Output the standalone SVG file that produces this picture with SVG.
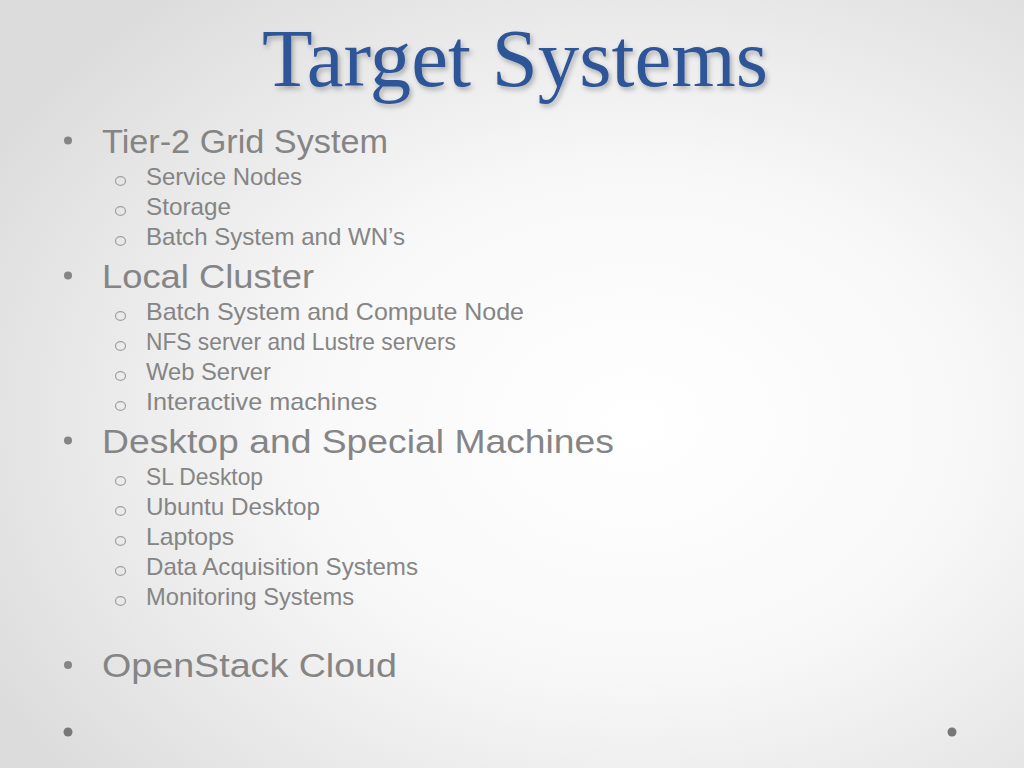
<svg xmlns="http://www.w3.org/2000/svg" width="1024" height="768" viewBox="0 0 1024 768">
<defs>
<radialGradient id="bg" cx="62%" cy="55%" r="72%">
<stop offset="0%" stop-color="#ffffff"/>
<stop offset="45%" stop-color="#f8f8f8"/>
<stop offset="100%" stop-color="#dcdcdc"/>
</radialGradient>
<filter id="sh" x="-10%" y="-20%" width="120%" height="150%">
<feDropShadow dx="2" dy="3" stdDeviation="2.5" flood-color="#000" flood-opacity="0.28"/>
</filter>
</defs>
<style>
.title{font-family:"Liberation Serif","Times New Roman",serif;font-size:82px;fill:#2F5597}
.l1{font-family:"Liberation Sans",Arial,sans-serif;font-size:34px;fill:#858585}
.l2{font-family:"Liberation Sans",Arial,sans-serif;font-size:24px;fill:#858585}
.b1{fill:#858585}
.b2{fill:none;stroke:#a0a0a0;stroke-width:1.2}
.dot{fill:#777777}
</style>
<rect width="1024" height="768" fill="url(#bg)"/>
<g id="title"><text class="title" x="262" y="86" textLength="506" lengthAdjust="spacingAndGlyphs" filter="url(#sh)">Target Systems</text></g>
<g id="bullets">
<g id="tier2">
<circle class="b1" cx="68" cy="140.5" r="4"/>
<text class="l1" x="102" y="153" textLength="286" lengthAdjust="spacingAndGlyphs">Tier-2 Grid System</text>
<ellipse class="b2" cx="120.5" cy="181" rx="5" ry="4.3"/>
<text class="l2" x="146" y="185" textLength="156" lengthAdjust="spacingAndGlyphs">Service Nodes</text>
<ellipse class="b2" cx="120.5" cy="211" rx="5" ry="4.3"/>
<text class="l2" x="146" y="215" textLength="85" lengthAdjust="spacingAndGlyphs">Storage</text>
<ellipse class="b2" cx="120.5" cy="241" rx="5" ry="4.3"/>
<text class="l2" x="146" y="245" textLength="259" lengthAdjust="spacingAndGlyphs">Batch System and WN’s</text>
</g>
<g id="local">
<circle class="b1" cx="68" cy="275.5" r="4"/>
<text class="l1" x="102" y="288" textLength="212" lengthAdjust="spacingAndGlyphs">Local Cluster</text>
<ellipse class="b2" cx="120.5" cy="316" rx="5" ry="4.3"/>
<text class="l2" x="146" y="320" textLength="378" lengthAdjust="spacingAndGlyphs">Batch System and Compute Node</text>
<ellipse class="b2" cx="120.5" cy="346" rx="5" ry="4.3"/>
<text class="l2" x="146" y="350" textLength="310" lengthAdjust="spacingAndGlyphs">NFS server and Lustre servers</text>
<ellipse class="b2" cx="120.5" cy="376" rx="5" ry="4.3"/>
<text class="l2" x="146" y="380" textLength="125" lengthAdjust="spacingAndGlyphs">Web Server</text>
<ellipse class="b2" cx="120.5" cy="406" rx="5" ry="4.3"/>
<text class="l2" x="146" y="410" textLength="231" lengthAdjust="spacingAndGlyphs">Interactive machines</text>
</g>
<g id="desktop">
<circle class="b1" cx="68" cy="440.5" r="4"/>
<text class="l1" x="102" y="453" textLength="512" lengthAdjust="spacingAndGlyphs">Desktop and Special Machines</text>
<ellipse class="b2" cx="120.5" cy="481" rx="5" ry="4.3"/>
<text class="l2" x="146" y="485" textLength="117" lengthAdjust="spacingAndGlyphs">SL Desktop</text>
<ellipse class="b2" cx="120.5" cy="511" rx="5" ry="4.3"/>
<text class="l2" x="146" y="515" textLength="174" lengthAdjust="spacingAndGlyphs">Ubuntu Desktop</text>
<ellipse class="b2" cx="120.5" cy="541" rx="5" ry="4.3"/>
<text class="l2" x="146" y="545" textLength="88" lengthAdjust="spacingAndGlyphs">Laptops</text>
<ellipse class="b2" cx="120.5" cy="571" rx="5" ry="4.3"/>
<text class="l2" x="146" y="575" textLength="272" lengthAdjust="spacingAndGlyphs">Data Acquisition Systems</text>
<ellipse class="b2" cx="120.5" cy="601" rx="5" ry="4.3"/>
<text class="l2" x="146" y="605" textLength="208" lengthAdjust="spacingAndGlyphs">Monitoring Systems</text>
</g>
<g id="openstack">
<circle class="b1" cx="68" cy="665" r="4"/>
<text class="l1" x="102" y="677" textLength="295" lengthAdjust="spacingAndGlyphs">OpenStack Cloud</text>
</g>
</g>
<g id="corners">
<circle class="dot" cx="68" cy="732" r="4.5"/>
<circle class="dot" cx="952" cy="732" r="4.5"/>
</g>
</svg>
